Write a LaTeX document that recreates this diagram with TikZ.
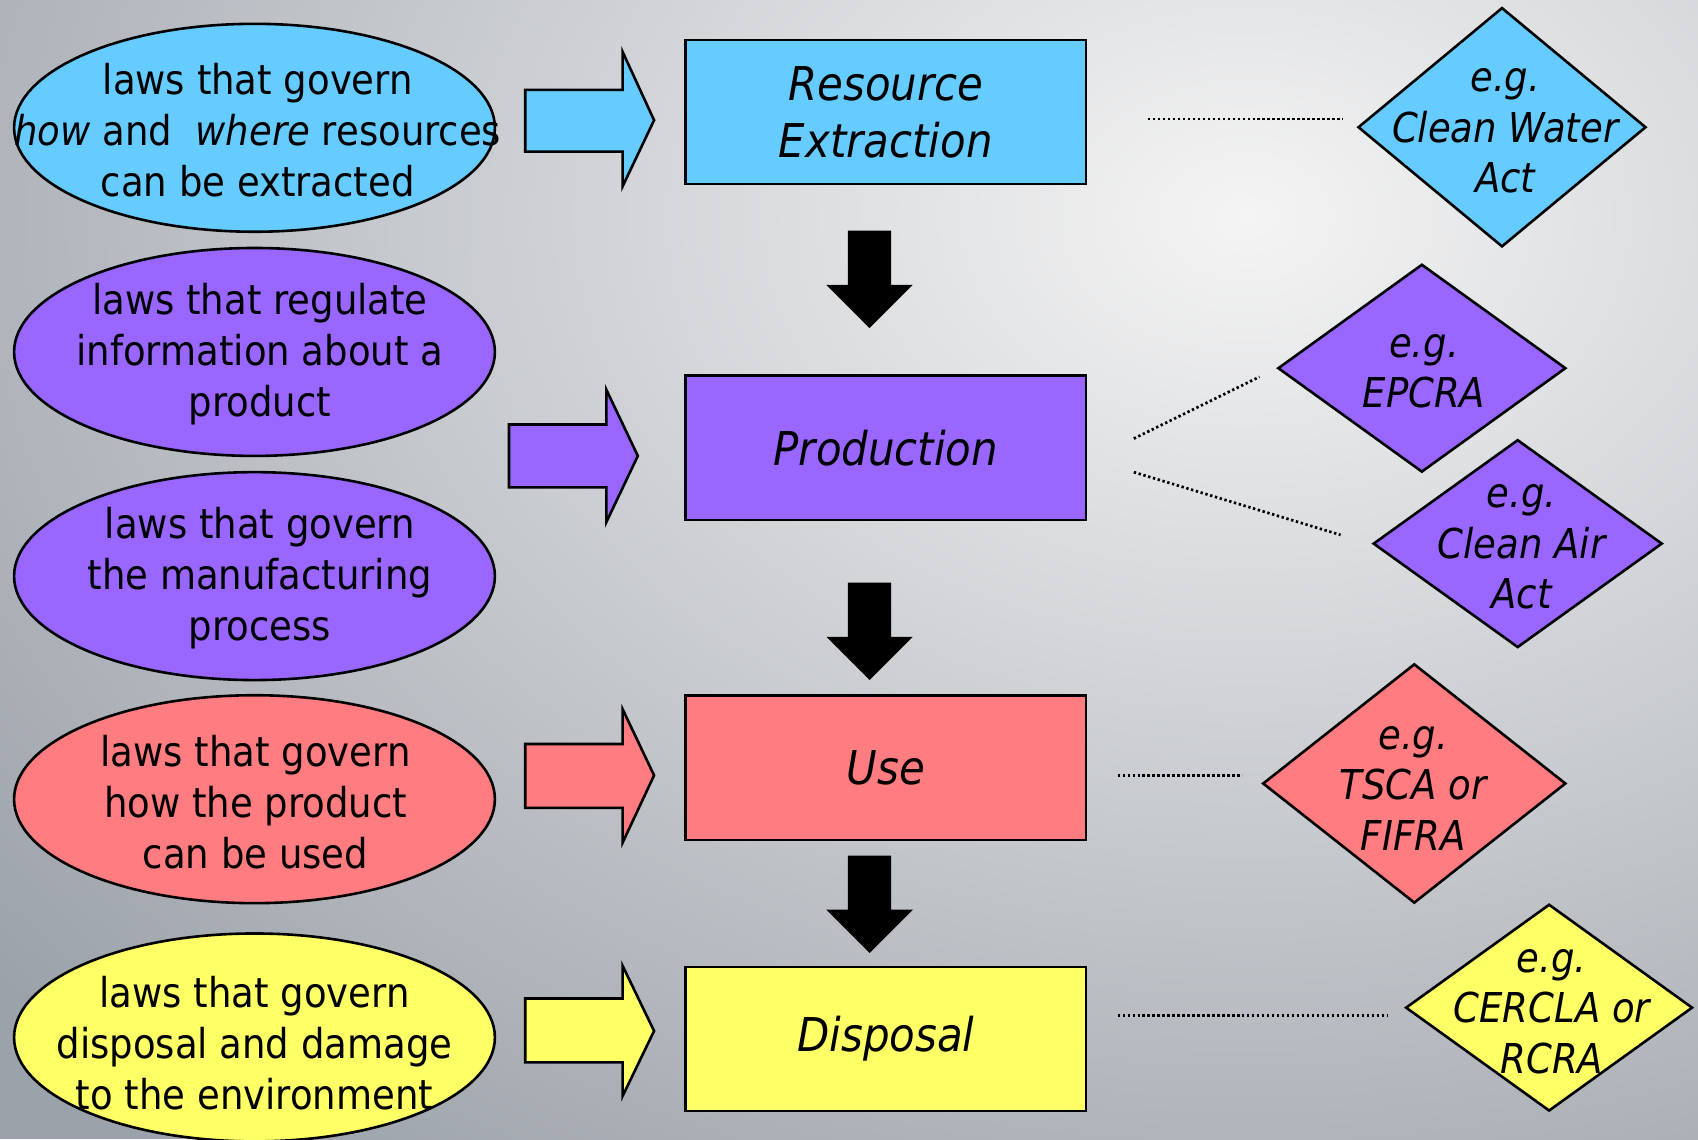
\documentclass[tikz,border=0pt]{standalone}
\usepackage{fontspec}
\setmainfont{DejaVu Sans Condensed}
\usetikzlibrary{shapes.geometric}
\definecolor{ccyan}{HTML}{66CCFF}
\definecolor{cpurple}{HTML}{9966FF}
\definecolor{cred}{HTML}{FF7C80}
\definecolor{cyellow}{HTML}{FFFF66}
\definecolor{bglight}{HTML}{F4F4F4}
\definecolor{bgdark}{HTML}{9CA2AA}
\tikzset{
  ell/.style={ellipse,draw=black,line width=2.4pt,minimum width=444pt,minimum height=192pt,inner sep=0pt},
  etext/.style={align=center,inner sep=0pt,font=\fontsize{38}{47}\selectfont},
  stage/.style={rectangle,draw=black,line width=2.4pt,minimum width=370pt,minimum height=133pt,align=center,inner sep=0pt,font=\fontsize{43}{53}\selectfont\itshape},
  dia/.style={diamond,draw=black,line width=2.4pt,inner sep=0pt},
  dtext/.style={align=center,inner sep=0pt,font=\fontsize{38}{46.5}\selectfont\itshape},
  blockarrow/.style={draw=black,line width=2.4pt,line join=miter},
  downarrow/.style={fill=black},
  dotline/.style={line width=2.5pt,dash pattern=on 2.2pt off 2.4pt},
}
\begin{document}
\begin{tikzpicture}[x=1pt,y=-1pt]
\useasboundingbox (0,0) rectangle (1568,1052);
% background
\begin{scope}
\clip (0,0) rectangle (1568,1052);
\fill[bgdark] (0,0) rectangle (1568,1052);
\shade[inner color=bglight,outer color=bgdark] (1150,200) ellipse (1500pt and 1100pt);
\end{scope}

% ellipses
\node[ell,fill=ccyan]   (e1) at (235,118) {};
\node[ell,fill=cpurple] (e2) at (235,325) {};
\node[ell,fill=cpurple] (e3) at (235,532) {};
\node[ell,fill=cred]    (e4) at (235,738) {};
\node[ell,fill=cyellow] (e5) at (235,958) {};
\node[etext] (e1t) at (238,120) {laws that govern\\\textit{how} and \ \textit{where} resources\\can be extracted};
\node[etext] (e2t) at (240,327) {laws that regulate\\information about a\\product};
\node[etext] (e3t) at (240,534) {laws that govern\\the manufacturing\\process};
\node[etext] (e4t) at (236,741) {laws that govern\\how the product\\can be used};
\node[etext] (e5t) at (235,963) {laws that govern\\disposal and damage\\to the environment};

% block arrows
\draw[blockarrow,fill=ccyan] (485,83) -- (575,83) -- (575,48) -- (604,111) -- (575,172) -- (575,140) -- (485,140) -- cycle;
\draw[blockarrow,fill=cpurple] (470,392) -- (560,392) -- (560,360) -- (589,421) -- (560,482) -- (560,450) -- (470,450) -- cycle;
\draw[blockarrow,fill=cred] (485,687) -- (575,687) -- (575,655) -- (604,716) -- (575,778) -- (575,746) -- (485,746) -- cycle;
\draw[blockarrow,fill=cyellow] (485,922) -- (575,922) -- (575,892) -- (604,952) -- (575,1012) -- (575,981) -- (485,981) -- cycle;

% stages
\node[stage,fill=ccyan]   (r1) at (818,103.5) {Resource\\Extraction};
\node[stage,fill=cpurple] (r2) at (818,413.5) {Production};
\node[stage,fill=cred]    (r3) at (818,709) {Use};
\node[stage,fill=cyellow] (r4) at (818,959.5) {Disposal};

% down arrows
\fill[downarrow] (783,213) -- (823,213) -- (823,263) -- (843,263) -- (803,303) -- (763,263) -- (783,263) -- cycle;
\fill[downarrow] (783,538) -- (823,538) -- (823,588) -- (843,588) -- (803,628) -- (763,588) -- (783,588) -- cycle;
\fill[downarrow] (783,790) -- (823,790) -- (823,840) -- (843,840) -- (803,880) -- (763,840) -- (783,840) -- cycle;

% diamonds
\node[dia,fill=ccyan,minimum width=266pt,minimum height=221pt]   (d1) at (1387,117.5) {};
\node[dia,fill=cpurple,minimum width=266pt,minimum height=192pt] (d2) at (1313,340) {};
\node[dia,fill=cpurple,minimum width=267pt,minimum height=192pt] (d3) at (1401.5,502) {};
\node[dia,fill=cred,minimum width=280pt,minimum height=221pt]    (d4) at (1306,723.5) {};
\node[dia,fill=cyellow,minimum width=265pt,minimum height=191pt] (d5) at (1430.5,930.5) {};
\node[dtext] (d1t) at (1390,121) {e.g.\\Clean Water\\Act};
\node[dtext] (d2t) at (1315,343) {e.g.\\EPCRA};
\node[dtext] (d3t) at (1405,505) {e.g.\\Clean Air\\Act};
\node[dtext] (d4t) at (1305,728) {e.g.\\TSCA or\\FIFRA};
\node[dtext] (d5t) at (1433,934) {e.g.\\CERCLA or\\RCRA};

% dotted connectors
\coordinate (p1a) at (1060,110); \coordinate (p1b) at (1240,110);
\coordinate (p2a) at (1047,405); \coordinate (p2b) at (1163,348);
\coordinate (p3a) at (1047,436); \coordinate (p3b) at (1238,494);
\coordinate (p4a) at (1032,716); \coordinate (p4b) at (1147,716);
\coordinate (p5a) at (1032,938); \coordinate (p5b) at (1282,938);
\draw[dotline] (p1a) -- (p1b);
\draw[dotline] (p2a) -- (p2b);
\draw[dotline] (p3a) -- (p3b);
\draw[dotline] (p4a) -- (p4b);
\draw[dotline] (p5a) -- (p5b);
\end{tikzpicture}
\end{document}
